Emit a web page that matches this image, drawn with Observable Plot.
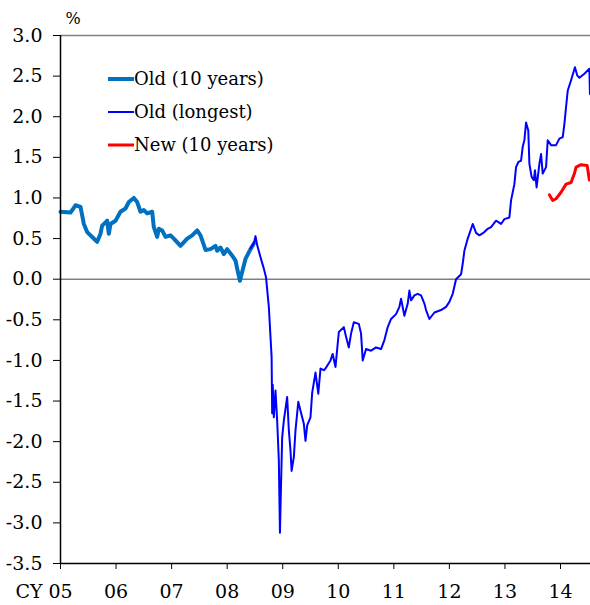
<!DOCTYPE html>
<html><head><meta charset="utf-8">
<script src="https://cdn.jsdelivr.net/npm/d3@7"></script>
<script src="https://cdn.jsdelivr.net/npm/@observablehq/plot@0.6"></script>
<style>body{margin:0;background:#fff}</style>
</head><body><div id="chart"></div>
<script>
// Old (10 years)
const old10X = [2005.00,2005.18,2005.27,2005.36,2005.42,2005.48,2005.57,2005.66,2005.72,2005.75,2005.81,2005.84,2005.87,2005.90,2005.99,2006.08,2006.17,2006.23,2006.32,2006.38,2006.44,2006.50,2006.56,2006.65,2006.68,2006.74,2006.77,2006.83,2006.89,2006.98,2007.04,2007.16,2007.28,2007.37,2007.46,2007.52,2007.61,2007.70,2007.79,2007.82,2007.88,2007.94,2008.00,2008.09,2008.15,2008.18,2008.23,2008.27,2008.33,2008.42,2008.48];
const old10Y = [0.83,0.82,0.91,0.89,0.68,0.58,0.52,0.46,0.56,0.66,0.70,0.72,0.56,0.68,0.72,0.83,0.87,0.95,1.00,0.95,0.83,0.85,0.81,0.83,0.64,0.52,0.62,0.60,0.52,0.54,0.50,0.41,0.50,0.54,0.60,0.54,0.36,0.37,0.41,0.35,0.39,0.31,0.37,0.29,0.23,0.13,-0.02,0.09,0.25,0.37,0.44];
// Old (longest)
const longX = [2008.42,2008.48,2008.51,2008.54,2008.60,2008.66,2008.70,2008.75,2008.80,2008.81,2008.82,2008.84,2008.87,2008.90,2008.93,2008.95,2008.97,2008.99,2009.02,2009.08,2009.11,2009.14,2009.16,2009.20,2009.23,2009.28,2009.32,2009.38,2009.41,2009.44,2009.50,2009.53,2009.59,2009.64,2009.68,2009.74,2009.77,2009.86,2009.90,2009.95,2010.01,2010.10,2010.14,2010.19,2010.23,2010.28,2010.37,2010.41,2010.44,2010.50,2010.59,2010.68,2010.77,2010.83,2010.89,2010.95,2011.04,2011.10,2011.13,2011.19,2011.25,2011.28,2011.31,2011.37,2011.43,2011.49,2011.55,2011.58,2011.64,2011.73,2011.85,2011.94,2012.00,2012.06,2012.12,2012.21,2012.24,2012.27,2012.33,2012.42,2012.48,2012.54,2012.63,2012.69,2012.75,2012.84,2012.93,2012.99,2013.08,2013.11,2013.17,2013.20,2013.24,2013.29,2013.32,2013.35,2013.38,2013.42,2013.44,2013.48,2013.52,2013.54,2013.57,2013.62,2013.65,2013.68,2013.74,2013.77,2013.83,2013.92,2013.98,2014.04,2014.07,2014.10,2014.13,2014.19,2014.26,2014.30,2014.34,2014.43,2014.52,2014.53];
const longY = [0.38,0.44,0.53,0.42,0.27,0.13,0.02,-0.34,-0.96,-1.65,-1.30,-1.70,-1.37,-1.74,-2.23,-3.12,-2.52,-1.95,-1.74,-1.45,-1.86,-2.11,-2.36,-2.19,-1.86,-1.51,-1.62,-1.78,-1.99,-1.80,-1.70,-1.40,-1.15,-1.41,-1.10,-1.12,-1.10,-1.00,-0.92,-1.08,-0.65,-0.59,-0.71,-0.84,-0.67,-0.53,-0.55,-0.67,-1.00,-0.86,-0.88,-0.84,-0.86,-0.75,-0.59,-0.49,-0.43,-0.34,-0.24,-0.45,-0.30,-0.14,-0.26,-0.20,-0.18,-0.20,-0.30,-0.38,-0.49,-0.41,-0.38,-0.34,-0.28,-0.18,0.00,0.06,0.19,0.35,0.50,0.68,0.57,0.54,0.58,0.62,0.64,0.72,0.68,0.74,0.76,0.97,1.17,1.38,1.44,1.46,1.63,1.71,1.93,1.83,1.42,1.26,1.22,1.34,1.13,1.42,1.54,1.30,1.38,1.71,1.65,1.65,1.73,1.75,1.91,2.12,2.32,2.45,2.61,2.51,2.48,2.53,2.59,2.28];
// New (10 years)
const newX = [2013.80,2013.86,2013.92,2014.01,2014.10,2014.19,2014.25,2014.28,2014.37,2014.48,2014.52];
const newY = [1.04,0.97,0.99,1.07,1.17,1.19,1.30,1.38,1.41,1.40,1.22];

const yTicks = [-3.5,-3.0,-2.5,-2.0,-1.5,-1.0,-0.5,0.0,0.5,1.0,1.5,2.0,2.5,3.0];
const xTicks = [2005,2006,2007,2008,2009,2010,2011,2012,2013,2014];
const xLabels = ["05","06","07","08","09","10","11","12","13","14"];
const legendLabels = ["Old (10 years)","Old (longest)","New (10 years)"];
const colors = ["#0070C0","#0000FF","#FF0000"];
const widths = [4,2,3];

const FONT = "'DejaVu Serif', serif";

const toRows = (xs, ys) => xs.map((x, i) => ({x, y: ys[i]}));
const old10 = toRows(old10X, old10Y);
const longest = toRows(longX, longY);
const newS = toRows(newX, newY);

const chart = Plot.plot({
  width: 590, height: 605,
  marginLeft: 60, marginRight: 0, marginTop: 35, marginBottom: 42,
  style: {fontFamily: FONT, fontSize: "19px", background: "#fff", color: "#000"},
  x: {type: "linear", domain: [2005, 2014.54]},
  y: {domain: [-3.5, 3.0]},
  marks: [
    Plot.ruleY([3.0], {stroke: "#808080", strokeWidth: 1.5}),
    Plot.ruleY([0], {stroke: "#808080", strokeWidth: 1.5}),
    Plot.line(old10, {x: "x", y: "y", stroke: colors[0], strokeWidth: widths[0], strokeLinejoin: "round"}),
    Plot.line(longest, {x: "x", y: "y", stroke: colors[1], strokeWidth: widths[1]}),
    Plot.line(newS, {x: "x", y: "y", stroke: colors[2], strokeWidth: widths[2]}),
    Plot.axisY({ticks: yTicks, tickFormat: d => d.toFixed(1), tickSize: 7, tickPadding: 11, fontSize: 19, label: null, stroke: "#000"}),
    Plot.axisX({ticks: xTicks, tickFormat: d => xLabels[xTicks.indexOf(d)], tickSize: 6, tickPadding: 15, fontSize: 19, label: null}),
    Plot.ruleX([2005], {stroke: "#000", strokeWidth: 1.5}),
    Plot.ruleY([-3.5], {stroke: "#000", strokeWidth: 1.5}),
    Plot.text(["CY"], {x: () => 2005, y: () => -3.5, text: d => d, textAnchor: "end", lineAnchor: "top", dx: -18, dy: 21, fontSize: 19}),
    Plot.text(["%"], {frameAnchor: "top-left", text: d => d, textAnchor: "start", lineAnchor: "middle", dx: 5, dy: -17, fontSize: 16})
  ]
});

// legend
const svg = d3.select(chart);
const lg = svg.append("g").attr("font-size", 18).attr("font-family", FONT).attr("text-anchor", "start");
legendLabels.forEach((lab, i) => {
  const yy = 79 + i * 33;
  lg.append("line").attr("x1", 108).attr("x2", 134).attr("y1", yy).attr("y2", yy)
    .attr("stroke", colors[i]).attr("stroke-width", widths[i]);
  lg.append("text").attr("x", 134).attr("y", yy).attr("dy", "0.35em").text(lab);
});
document.getElementById("chart").appendChild(chart);
</script>
</body></html>
